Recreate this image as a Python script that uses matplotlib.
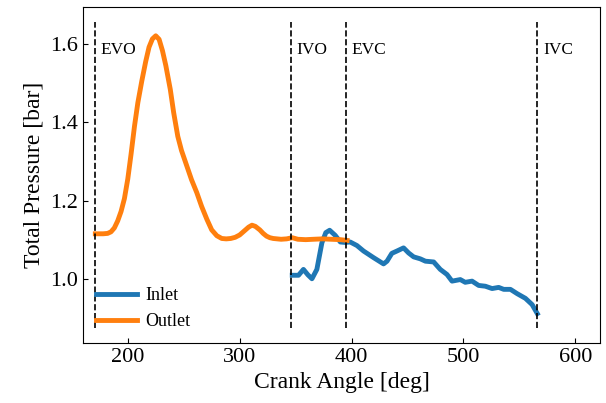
import matplotlib.pyplot as plt

plt.rcParams['font.family'] = 'Liberation Serif'

# exhaust side total pressure
outlet_ca = [171, 178, 182, 185, 188, 191, 194, 197, 200, 203, 206, 209, 212.5, 216, 219,
             222, 225, 228, 231, 234, 238, 241, 244.7, 248, 252.8, 257, 261.7, 266, 270.7,
             275, 279.6, 284, 288, 292, 296, 300, 304, 308, 311, 314, 318, 321, 324, 327,
             330, 337, 342, 347, 352, 359, 366, 374, 382, 390, 396]
outlet_p = [1.115, 1.115, 1.116, 1.120, 1.130, 1.148, 1.172, 1.205, 1.255, 1.320, 1.390,
            1.450, 1.505, 1.555, 1.592, 1.613, 1.621, 1.612, 1.583, 1.545, 1.484, 1.425,
            1.364, 1.328, 1.288, 1.253, 1.220, 1.185, 1.152, 1.125, 1.110, 1.103, 1.102,
            1.103, 1.106, 1.112, 1.122, 1.132, 1.137, 1.134, 1.125, 1.116, 1.109, 1.105,
            1.103, 1.101, 1.102, 1.105, 1.101, 1.100, 1.101, 1.102, 1.101, 1.100, 1.098]

# intake side total pressure
inlet_ca = [347, 352.6, 357, 361, 364.6, 369, 373.5, 377, 380.4, 385.4, 390, 394, 398.8,
            404.8, 410.7, 419.7, 428.6, 431.7, 436, 440.6, 446.5, 451, 455.5, 461.4, 466,
            473.4, 479.3, 485.3, 489.8, 497.2, 501.6, 507.7, 513.6, 519.6, 525.6, 531.5,
            536, 542, 548, 555.4, 561.4, 566]
inlet_p = [1.009, 1.009, 1.024, 1.010, 1.000, 1.024, 1.092, 1.118, 1.124, 1.111, 1.094,
           1.093, 1.094, 1.085, 1.071, 1.054, 1.038, 1.045, 1.065, 1.071, 1.079, 1.066,
           1.056, 1.051, 1.045, 1.043, 1.024, 1.011, 0.994, 0.998, 0.991, 0.994, 0.983,
           0.981, 0.975, 0.978, 0.973, 0.973, 0.962, 0.950, 0.934, 0.911]

events = ['EVO', 'IVO', 'EVC', 'IVC']
event_ca = [171, 346, 395, 566]

fig = plt.figure(figsize=(6.06, 4.03), dpi=100)
ax = fig.add_axes([0.137, 0.149, 0.853, 0.834])

ax.plot(inlet_ca, inlet_p, color='tab:blue', lw=3.5, label='Inlet', solid_joinstyle='round')
ax.plot(outlet_ca, outlet_p, color='tab:orange', lw=3.5, label='Outlet', solid_joinstyle='round')

for name, ca in zip(events, event_ca):
    ax.vlines(ca, 0.875, 1.656, colors='k', linestyles='--', lw=1.2)
    ax.text(ca + 5, 1.585, name, fontsize=12.5, va='center', ha='left')

ax.set_xlim(160, 622)
ax.set_ylim(0.836, 1.695)
ax.set_xticks([200, 300, 400, 500, 600])
ax.set_yticks([1.0, 1.2, 1.4, 1.6])
ax.tick_params(direction='in', labelsize=16)
ax.set_xlabel('Crank Angle [deg]', fontsize=17)
ax.set_ylabel('Total Pressure [bar]', fontsize=17)
ax.legend(loc='lower left', frameon=False, fontsize=13, handlelength=2.3,
          handletextpad=0.45, borderaxespad=0.3)

fig.savefig('out.png')
